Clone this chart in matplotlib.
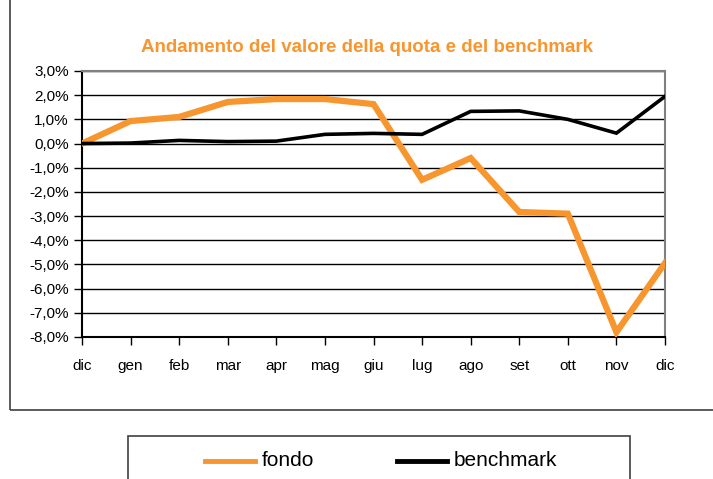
import matplotlib.pyplot as plt
from matplotlib.patches import Rectangle
from matplotlib.lines import Line2D
from matplotlib.ticker import FuncFormatter

months = ['dic', 'gen', 'feb', 'mar', 'apr', 'mag', 'giu', 'lug', 'ago', 'set', 'ott', 'nov', 'dic']
fondo = [0.0, 0.93, 1.1, 1.72, 1.84, 1.84, 1.63, -1.5, -0.6, -2.83, -2.9, -7.8, -4.94]
benchmark = [0.0, 0.02, 0.13, 0.08, 0.1, 0.38, 0.42, 0.38, 1.33, 1.35, 1.0, 0.43, 1.95]

orange = '#F7962F'
plt.rcParams['font.family'] = ['Liberation Sans Narrow', 'Liberation Sans', 'DejaVu Sans']

W, H = 713, 479
fig = plt.figure(figsize=(W / 100, H / 100), dpi=100)

# outer chart frame and legend frame
fig.patches.append(Rectangle((10 / W, 1 - 410 / H), 720 / W, 420 / H,
                             transform=fig.transFigure, fill=False,
                             edgecolor='#404040', linewidth=1.2))
fig.patches.append(Rectangle((128 / W, 1 - 500 / H), 502 / W, 64 / H,
                             transform=fig.transFigure, fill=False,
                             edgecolor='#404040', linewidth=1.2))

ax = fig.add_axes([82 / W, 1 - 337 / H, (665 - 82) / W, (337 - 71) / H])
x = list(range(len(months)))
ax.plot(x, fondo, color=orange, linewidth=4.5, solid_joinstyle='miter', zorder=3)
ax.plot(x, benchmark, color='black', linewidth=2.6, solid_joinstyle='miter', zorder=4)

ax.set_xlim(0, len(months) - 1)
ax.set_ylim(-8, 3)
ax.set_yticks(range(-8, 4))
ax.yaxis.set_major_formatter(FuncFormatter(lambda v, p: f'{v:.1f}%'.replace('.', ',')))
ax.set_xticks(x)
ax.set_xticklabels(months)
ax.grid(axis='y', color='black', linewidth=1)
ax.set_axisbelow(True)
ax.tick_params(axis='both', direction='out', length=6, width=1, labelsize=11, colors='black')
ax.tick_params(axis='x', pad=10)
ax.spines['left'].set_linewidth(1.5)
ax.spines['bottom'].set_linewidth(1.5)
ax.spines['top'].set_color('#808080')
ax.spines['right'].set_color('#808080')
ax.spines['top'].set_linewidth(1.5)
ax.spines['right'].set_linewidth(1.5)

fig.text(367 / W, 1 - 47 / H, 'Andamento del valore della quota e del benchmark',
         ha='center', va='center', color=orange, fontsize=13.5, fontweight='bold')

# legend drawn by hand inside its frame
ly = 1 - 461 / H
for x0, x1, c, label in [(205, 255, orange, 'fondo'), (397, 447, 'black', 'benchmark')]:
    fig.lines.append(Line2D([x0 / W, x1 / W], [ly, ly], transform=fig.transFigure,
                            color=c, linewidth=3.5))
    fig.text((x1 + 7) / W, ly, label, ha='left', va='center', fontsize=15, color='black')

fig.savefig('out.png', dpi=100)
